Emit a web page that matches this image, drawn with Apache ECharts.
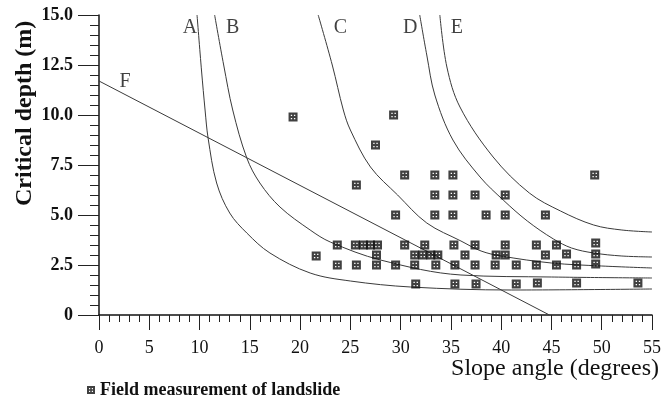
<!DOCTYPE html>
<html><head><meta charset="utf-8">
<script src="https://cdn.jsdelivr.net/npm/echarts@6/dist/echarts.min.js"></script>
<style>html,body{margin:0;padding:0;background:#fff}#c{width:664px;height:398px}</style>
</head><body><div id="c"></div>
<script>
const xTickLabels = ['0','5','10','15','20','25','30','35','40','45','50','55'];
const yTickLabels = ['0','2.5','5.0','7.5','10.0','12.5','15.0'];

const curveA = [[9.75,15],[10.2,12.2],[10.55,10.25],[10.85,8.85],[11.7,6.6],[13.0,5.1],[14.7,4.1],[17.0,3.1],[21.0,2.1],[25,1.7],[31,1.4],[41,1.25],[55,1.3]];
const curveB = [[11.5,15],[12.4,12.5],[13.3,10.25],[14.7,7.85],[16,6.6],[18,5.4],[21,4.25],[23,3.65],[28,2.75],[36,2.0],[45,1.9],[55,1.85]];
const curveC = [[21.8,15],[23.2,12.5],[24.3,10.25],[25,9.25],[27,7.4],[29.7,6.0],[32.6,4.6],[36,3.7],[38,3.2],[40,2.95],[45,2.6],[50,2.45],[55,2.35]];
const curveD = [[31.9,15],[32.6,13],[33.4,11],[35.2,8.75],[37.9,6.9],[40.2,5.75],[42.6,4.7],[45.2,3.8],[47,3.35],[49.2,3.1],[52,2.95],[55,2.9]];
const curveE = [[33.9,15],[34.6,12.4],[35.9,10.4],[39.2,7.9],[42.8,6.1],[45.9,5.2],[49.2,4.5],[52,4.25],[55,4.15]];
const lineF = [[0,11.7],[44.8,0]];

const landslides = [
  [19.3,9.9],[29.3,10],[27.5,8.5],[25.6,6.5],[30.4,7],[33.4,7],[35.2,7],[49.3,7],
  [33.4,6],[35.2,6],[37.4,6],[40.4,6],
  [29.5,5],[33.4,5],[35.2,5],[38.5,5],[40.4,5],[44.4,5],
  [23.7,3.5],[25.5,3.5],[26.3,3.5],[27.0,3.5],[27.7,3.5],[30.4,3.5],[32.4,3.5],[35.3,3.5],[37.4,3.5],[40.4,3.5],[43.5,3.5],[45.5,3.5],[49.4,3.6],
  [21.6,2.95],[27.6,3],[31.4,3],[32.2,3],[33.0,3],[33.7,3],[36.4,3],[39.5,3],[40.4,3],[44.4,3],[46.5,3.05],[49.4,3.05],
  [23.7,2.5],[25.6,2.5],[27.6,2.5],[29.5,2.5],[31.4,2.5],[33.5,2.5],[35.4,2.5],[37.4,2.5],[39.4,2.5],[41.5,2.5],[43.5,2.5],[45.5,2.5],[47.5,2.5],[49.4,2.55],
  [31.5,1.55],[35.4,1.55],[37.5,1.55],[41.5,1.55],[43.6,1.6],[47.5,1.6],[53.6,1.6]
];
const curveLabels = [['A',9.05,14.35],['B',13.3,14.35],['C',24.0,14.35],['D',30.95,14.35],['E',35.6,14.35],['F',2.6,11.65]];

const FONT = '"Liberation Serif", "DejaVu Serif", serif';
const MARK = 'path://M0,0L10,0L10,10L0,10Z M2.5,2.5L2.5,4L4,4L4,2.5Z M6,2.5L6,4L7.5,4L7.5,2.5Z M2.5,6L2.5,7.5L4,7.5L4,6Z M6,6L6,7.5L7.5,7.5L7.5,6Z';

const curves = [['A',curveA],['B',curveB],['C',curveC],['D',curveD],['E',curveE],['F',lineF]];
const lineSeries = curves.map(([n,d]) => ({
  name: n, type: 'line', data: d, symbol: 'none', smooth: n === 'F' ? false : 0.35,
  lineStyle: {color: '#3a3a3a', width: 1}, silent: true, z: 2
}));

const chart = echarts.init(document.getElementById('c'), null, {renderer: 'canvas'});
chart.setOption({
  backgroundColor: '#fff',
  animation: false,
  grid: {left: 99, right: 12, top: 15, bottom: 83, containLabel: false},
  xAxis: {
    type: 'value', min: 0, max: 55, interval: 5,
    axisLine: {show: true, lineStyle: {color: '#111', width: 1.5}},
    axisTick: {show: true, length: 15, lineStyle: {color: '#222', width: 1}},
    minorTick: {show: true, splitNumber: 5, length: 7, lineStyle: {color: '#222', width: 1}},
    splitLine: {show: false}, minorSplitLine: {show: false},
    axisLabel: {margin: 24, fontFamily: FONT, fontSize: 18, color: '#111',
      formatter: v => xTickLabels[Math.round(v/5)]}
  },
  yAxis: {
    type: 'value', min: 0, max: 15, interval: 2.5,
    axisLine: {show: true, lineStyle: {color: '#111', width: 1.5}},
    axisTick: {show: true, length: 21, lineStyle: {color: '#222', width: 1}},
    minorTick: {show: true, splitNumber: 5, length: 9, lineStyle: {color: '#222', width: 1}},
    splitLine: {show: false}, minorSplitLine: {show: false},
    axisLabel: {margin: 26, fontFamily: FONT, fontSize: 18, fontWeight: 'bold', color: '#111',
      formatter: v => yTickLabels[Math.round(v/2.5)]}
  },
  legend: {
    show: true, left: 82, top: 376, selectedMode: false,
    data: [{name: 'Field measurement of landslide', icon: MARK}],
    itemWidth: 8, itemHeight: 8, itemGap: 8,
    textStyle: {fontFamily: FONT, fontSize: 18, fontWeight: 'bold', color: '#111'}
  },
  graphic: [
    {type: 'text', silent: true, rotation: Math.PI/2, x: 13, y: 206,
      style: {text: 'Critical depth (m)', fontFamily: FONT, fontSize: 24, fontWeight: 'bold', fill: '#111',
        align: 'left', verticalAlign: 'top'}},
    {type: 'text', right: 5, top: 357, silent: true,
      style: {text: 'Slope angle (degrees)', fontFamily: FONT, fontSize: 24, fill: '#111'}}
  ],
  series: [
    ...lineSeries,
    {
      name: 'Field measurement of landslide', type: 'scatter', data: landslides,
      symbol: MARK, symbolSize: 9, itemStyle: {color: '#111'}, z: 3, silent: true
    },
    {
      name: 'curveLabels', type: 'scatter', symbolSize: 0, silent: true, z: 4,
      data: curveLabels.map(([t,x,y]) => ({name: t, value: [x,y]})),
      label: {show: true, position: 'inside', formatter: p => p.name,
        fontFamily: FONT, fontSize: 20, color: '#111'}
    }
  ]
});
</script></body></html>
